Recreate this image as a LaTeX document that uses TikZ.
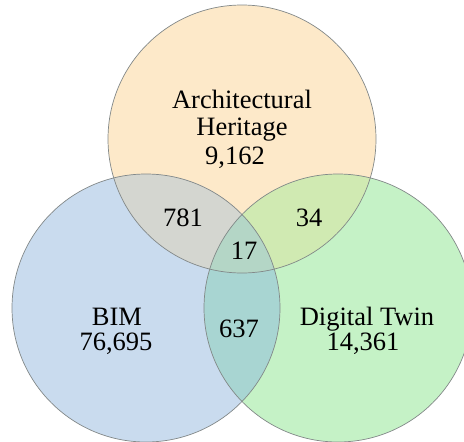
\documentclass[tikz,border=0pt]{standalone}
\usepackage{fontspec}
\setmainfont{Liberation Serif}
\definecolor{cTop}{RGB}{253,233,201}
\definecolor{cBIM}{RGB}{201,219,238}
\definecolor{cDT}{RGB}{197,242,198}
\definecolor{cAB}{RGB}{212,214,208}
\definecolor{cAD}{RGB}{208,234,178}
\definecolor{cBD}{RGB}{168,213,210}
\definecolor{cABD}{RGB}{180,214,198}
\definecolor{ringgray}{RGB}{130,136,136}
\begin{document}
\begin{tikzpicture}[x=1pt,y=-1pt,
  lbl/.style={font=\fontsize{26.5}{30}\selectfont, inner sep=0pt, anchor=base},
  ring/.style={draw=ringgray, line width=0.7pt}]
\useasboundingbox (0,0) rectangle (464,442);
\clip (0,0) rectangle (464,442);
\coordinate (cA) at (242,139);
\coordinate (cB) at (146,308);
\coordinate (cD) at (338,308);
\fill[cTop] (cA) circle[radius=134pt];
\fill[cBIM] (cB) circle[radius=134pt];
\fill[cDT] (cD) circle[radius=134pt];
\begin{scope}
  \clip (cA) circle[radius=134pt];
  \fill[cAB] (cB) circle[radius=134pt];
  \fill[cAD] (cD) circle[radius=134pt];
\end{scope}
\begin{scope}
  \clip (cB) circle[radius=134pt];
  \fill[cBD] (cD) circle[radius=134pt];
  \clip (cD) circle[radius=134pt];
  \fill[cABD] (cA) circle[radius=134pt];
\end{scope}
\draw[ring] (cA) circle[radius=134pt];
\draw[ring] (cB) circle[radius=134pt];
\draw[ring] (cD) circle[radius=134pt];
\node[lbl] (ah1) at (242,108) {Architectural};
\node[lbl] (ah2) at (242,135) {Heritage};
\node[lbl] (ahn) at (235,164) {9,162};
\node[lbl] (ab) at (183,226) {781};
\node[lbl] (ad) at (309,226) {34};
\node[lbl] (abd) at (244,259) {17};
\node[lbl] (b1) at (117,325) {BIM};
\node[lbl] (bn) at (116,350) {76,695};
\node[lbl] (bd) at (239,337) {637};
\node[lbl] (d1) at (367,325) {Digital Twin};
\node[lbl] (dn) at (363,350) {14,361};
\end{tikzpicture}
\end{document}
